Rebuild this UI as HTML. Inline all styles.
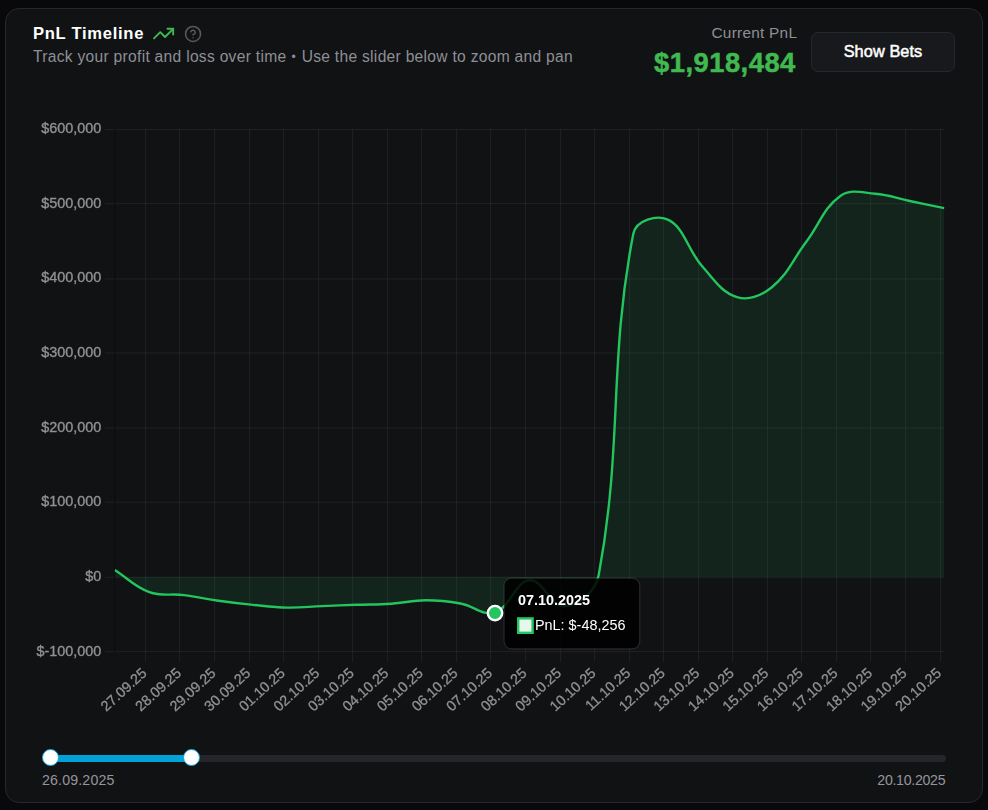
<!DOCTYPE html>
<html><head><meta charset="utf-8"><title>PnL Timeline</title>
<style>
html,body{margin:0;padding:0;}
body{width:988px;height:810px;overflow:hidden;background:#09090b;font-family:"Liberation Sans",sans-serif;position:relative;}
.card{position:absolute;left:5px;top:8px;width:976px;height:793px;border:1px solid #27282d;border-radius:14px;background:#111214;}
.abs{position:absolute;white-space:nowrap;line-height:1;}
.title{left:33px;top:26.2px;font-size:16.6px;font-weight:700;color:#fff;letter-spacing:0.7px;}
.sub{left:33px;top:48.5px;font-size:15.6px;color:#8d8f96;letter-spacing:0.29px;}
.cur{right:190.8px;top:24.6px;font-size:15.4px;color:#8d8f96;letter-spacing:0.25px;}
.val{right:192.2px;top:48.5px;font-size:27.4px;font-weight:700;color:#3fb950;-webkit-text-stroke:0.5px #3fb950;letter-spacing:0.47px;}
.btn{position:absolute;left:811px;top:32px;width:142px;height:37.6px;border:1px solid #26272b;border-radius:7px;background:#18191c;color:#fff;font-weight:400;-webkit-text-stroke:0.5px #fff;font-size:16.3px;letter-spacing:0.1px;text-align:center;line-height:37px;}
.track{position:absolute;left:42px;top:754.6px;width:904px;height:7.2px;border-radius:3.6px;background:#25262a;}
.range{position:absolute;left:50px;top:754.6px;width:141px;height:7.2px;background:#00a2d8;}
.thumb{position:absolute;top:749.1px;width:15.4px;height:15.4px;border-radius:50%;background:#fff;border:1px solid #0ea5d8;}
.bu{font-size:12px;letter-spacing:1.2px;margin-left:0.6px;position:relative;top:-0.5px;}
.dl{top:773px;font-size:14.2px;color:#94969d;}
svg{position:absolute;left:0;top:0;will-change:transform;}
svg text{font-family:"Liberation Sans",sans-serif;font-size:14.4px;fill:#919191;}
</style></head><body>
<div class="card"></div>
<div class="abs title">PnL Timeline</div>
<div class="abs sub">Track your profit and loss over time <span class="bu">•</span> Use the slider below to zoom and pan</div>
<div class="abs cur">Current PnL</div>
<div class="abs val">$1,918,484</div>
<div class="btn">Show Bets</div>
<div class="track"></div><div class="range"></div>
<div class="thumb" style="left:41.8px"></div><div class="thumb" style="left:182.5px"></div>
<div class="abs dl" style="left:42px;letter-spacing:0.15px">26.09.2025</div>
<div class="abs dl" style="right:42.7px;letter-spacing:-0.3px">20.10.2025</div>
<svg width="988" height="810" viewBox="0 0 988 810">
<!-- icons -->
<g fill="none" stroke="#3fb950" stroke-width="2" stroke-linecap="round" stroke-linejoin="round" transform="translate(152.1 22.1) scale(0.958)"><polyline points="22 7 13.5 15.5 8.5 10.5 2 17"/><polyline points="16 7 22 7 22 13"/></g>
<g fill="none" stroke="#5a5a5a" stroke-width="2" stroke-linecap="round" stroke-linejoin="round" transform="translate(184.05 24.95) scale(0.75)"><circle cx="12" cy="12" r="10"/><path d="M9.09 9a3 3 0 0 1 5.83 1c0 2-3 3-3 3"/><path d="M12 17h.01"/></g>
<!-- grid -->
<g fill="rgba(255,255,255,0.055)"><rect x="105" y="129.00" width="839.4" height="1.2"/><rect x="105" y="203.00" width="839.4" height="1.2"/><rect x="105" y="278.30" width="839.4" height="1.2"/><rect x="105" y="352.40" width="839.4" height="1.2"/><rect x="105" y="427.40" width="839.4" height="1.2"/><rect x="105" y="501.60" width="839.4" height="1.2"/><rect x="105" y="576.70" width="839.4" height="1.2"/><rect x="105" y="651.00" width="839.4" height="1.2"/><rect x="145" y="129.0" width="1.2" height="532.7"/><rect x="179" y="129.0" width="1.2" height="532.7"/><rect x="214" y="129.0" width="1.2" height="532.7"/><rect x="249" y="129.0" width="1.2" height="532.7"/><rect x="283" y="129.0" width="1.2" height="532.7"/><rect x="318" y="129.0" width="1.2" height="532.7"/><rect x="352" y="129.0" width="1.2" height="532.7"/><rect x="387" y="129.0" width="1.2" height="532.7"/><rect x="421" y="129.0" width="1.2" height="532.7"/><rect x="456" y="129.0" width="1.2" height="532.7"/><rect x="490" y="129.0" width="1.2" height="532.7"/><rect x="525" y="129.0" width="1.2" height="532.7"/><rect x="560" y="129.0" width="1.2" height="532.7"/><rect x="594" y="129.0" width="1.2" height="532.7"/><rect x="629" y="129.0" width="1.2" height="532.7"/><rect x="663" y="129.0" width="1.2" height="532.7"/><rect x="698" y="129.0" width="1.2" height="532.7"/><rect x="732" y="129.0" width="1.2" height="532.7"/><rect x="767" y="129.0" width="1.2" height="532.7"/><rect x="801" y="129.0" width="1.2" height="532.7"/><rect x="836" y="129.0" width="1.2" height="532.7"/><rect x="870" y="129.0" width="1.2" height="532.7"/><rect x="905" y="129.0" width="1.2" height="532.7"/><rect x="940" y="129.0" width="1.2" height="532.7"/></g>
<rect x="114" y="129" width="1.2" height="523.2" fill="#0c0d0f"/>
<g stroke="#919191" stroke-width="0.35"><text x="101.3" y="132.90" text-anchor="end">$600,000</text><text x="101.3" y="207.61" text-anchor="end">$500,000</text><text x="101.3" y="282.32" text-anchor="end">$400,000</text><text x="101.3" y="357.03" text-anchor="end">$300,000</text><text x="101.3" y="431.74" text-anchor="end">$200,000</text><text x="101.3" y="506.45" text-anchor="end">$100,000</text><text x="101.3" y="581.16" text-anchor="end">$0</text><text x="101.3" y="655.87" text-anchor="end">$-100,000</text></g>
<g style="font-size:15.3px" stroke="#919191" stroke-width="0.3"><text transform="translate(138.50 664.30) rotate(-42.3)" x="0" y="13.63" text-anchor="end">27.09.25</text><text transform="translate(173.04 664.30) rotate(-42.3)" x="0" y="13.63" text-anchor="end">28.09.25</text><text transform="translate(207.59 664.30) rotate(-42.3)" x="0" y="13.63" text-anchor="end">29.09.25</text><text transform="translate(242.14 664.30) rotate(-42.3)" x="0" y="13.63" text-anchor="end">30.09.25</text><text transform="translate(276.68 664.30) rotate(-42.3)" x="0" y="13.63" text-anchor="end">01.10.25</text><text transform="translate(311.23 664.30) rotate(-42.3)" x="0" y="13.63" text-anchor="end">02.10.25</text><text transform="translate(345.77 664.30) rotate(-42.3)" x="0" y="13.63" text-anchor="end">03.10.25</text><text transform="translate(380.31 664.30) rotate(-42.3)" x="0" y="13.63" text-anchor="end">04.10.25</text><text transform="translate(414.86 664.30) rotate(-42.3)" x="0" y="13.63" text-anchor="end">05.10.25</text><text transform="translate(449.40 664.30) rotate(-42.3)" x="0" y="13.63" text-anchor="end">06.10.25</text><text transform="translate(483.95 664.30) rotate(-42.3)" x="0" y="13.63" text-anchor="end">07.10.25</text><text transform="translate(518.50 664.30) rotate(-42.3)" x="0" y="13.63" text-anchor="end">08.10.25</text><text transform="translate(553.04 664.30) rotate(-42.3)" x="0" y="13.63" text-anchor="end">09.10.25</text><text transform="translate(587.59 664.30) rotate(-42.3)" x="0" y="13.63" text-anchor="end">10.10.25</text><text transform="translate(622.13 664.30) rotate(-42.3)" x="0" y="13.63" text-anchor="end">11.10.25</text><text transform="translate(656.68 664.30) rotate(-42.3)" x="0" y="13.63" text-anchor="end">12.10.25</text><text transform="translate(691.22 664.30) rotate(-42.3)" x="0" y="13.63" text-anchor="end">13.10.25</text><text transform="translate(725.76 664.30) rotate(-42.3)" x="0" y="13.63" text-anchor="end">14.10.25</text><text transform="translate(760.31 664.30) rotate(-42.3)" x="0" y="13.63" text-anchor="end">15.10.25</text><text transform="translate(794.86 664.30) rotate(-42.3)" x="0" y="13.63" text-anchor="end">16.10.25</text><text transform="translate(829.40 664.30) rotate(-42.3)" x="0" y="13.63" text-anchor="end">17.10.25</text><text transform="translate(863.95 664.30) rotate(-42.3)" x="0" y="13.63" text-anchor="end">18.10.25</text><text transform="translate(898.49 664.30) rotate(-42.3)" x="0" y="13.63" text-anchor="end">19.10.25</text><text transform="translate(933.04 664.30) rotate(-42.3)" x="0" y="13.63" text-anchor="end">20.10.25</text></g>
<defs><clipPath id="ca"><rect x="114.6" y="129.0" width="829.8" height="523.2"/></clipPath></defs>
<g clip-path="url(#ca)">
<path d="M114.80 570.00 C128.63 578.84 134.38 586.66 149.37 592.10 C162.03 596.70 170.17 593.37 183.93 595.10 C197.82 596.85 204.62 598.83 218.50 600.80 C232.28 602.75 239.21 603.54 253.06 604.90 C266.86 606.26 273.78 607.36 287.62 607.60 C301.44 607.84 308.36 606.66 322.19 606.10 C336.01 605.54 342.93 605.28 356.75 604.80 C370.58 604.32 377.52 604.60 391.32 603.70 C405.18 602.80 412.06 600.34 425.88 600.30 C439.71 600.26 446.82 601.11 460.45 603.50 C474.47 605.95 483.10 616.40 495.01 612.40 C510.76 607.12 515.15 581.59 529.58 580.30 C542.80 579.11 550.84 607.22 564.14 606.20 C578.49 605.10 595.40 592.81 598.71 575.00 C623.05 443.93 608.34 362.14 633.27 234.00 C636.00 220.02 657.02 214.61 667.84 219.70 C684.67 227.61 686.99 249.24 702.40 266.50 C714.64 280.20 721.41 292.37 736.97 297.10 C749.06 300.77 760.87 296.00 771.53 287.50 C788.52 273.96 792.34 260.25 806.10 242.00 C819.99 223.57 823.38 207.87 840.66 195.80 C851.04 188.55 861.54 192.67 875.23 193.70 C889.19 194.75 895.96 198.10 909.79 201.00 C923.62 203.90 930.53 205.32 944.36 208.20 L944.36 577.00 L114.80 577.00 Z" fill="rgba(34,197,94,0.1)"/>
<path d="M114.80 570.00 C128.63 578.84 134.38 586.66 149.37 592.10 C162.03 596.70 170.17 593.37 183.93 595.10 C197.82 596.85 204.62 598.83 218.50 600.80 C232.28 602.75 239.21 603.54 253.06 604.90 C266.86 606.26 273.78 607.36 287.62 607.60 C301.44 607.84 308.36 606.66 322.19 606.10 C336.01 605.54 342.93 605.28 356.75 604.80 C370.58 604.32 377.52 604.60 391.32 603.70 C405.18 602.80 412.06 600.34 425.88 600.30 C439.71 600.26 446.82 601.11 460.45 603.50 C474.47 605.95 483.10 616.40 495.01 612.40 C510.76 607.12 515.15 581.59 529.58 580.30 C542.80 579.11 550.84 607.22 564.14 606.20 C578.49 605.10 595.40 592.81 598.71 575.00 C623.05 443.93 608.34 362.14 633.27 234.00 C636.00 220.02 657.02 214.61 667.84 219.70 C684.67 227.61 686.99 249.24 702.40 266.50 C714.64 280.20 721.41 292.37 736.97 297.10 C749.06 300.77 760.87 296.00 771.53 287.50 C788.52 273.96 792.34 260.25 806.10 242.00 C819.99 223.57 823.38 207.87 840.66 195.80 C851.04 188.55 861.54 192.67 875.23 193.70 C889.19 194.75 895.96 198.10 909.79 201.00 C923.62 203.90 930.53 205.32 944.36 208.20" fill="none" stroke="#22c55e" stroke-width="2.4" stroke-linejoin="round"/>
</g>
<circle cx="495" cy="613.1" r="7.2" fill="#22c55e" stroke="#fff" stroke-width="2.4"/>
<!-- tooltip -->
<rect x="504.1" y="578.2" width="135.6" height="70.6" rx="7.2" fill="rgba(0,0,0,0.86)" stroke="rgba(255,255,255,0.12)" stroke-width="1.2"/>
<text x="518" y="605" style="font-weight:700;fill:#fff">07.10.2025</text>
<rect x="518.2" y="618.4" width="14.4" height="14.4" fill="#e8f7ee" stroke="#22c55e" stroke-width="2.4"/>
<text x="535" y="630" style="fill:#fff">PnL: $-48,256</text>
</svg>
</body></html>
